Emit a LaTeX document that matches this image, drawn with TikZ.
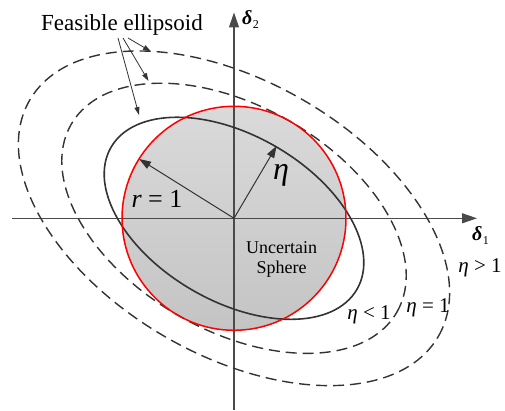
\documentclass[tikz,border=0pt]{standalone}
\usepackage{fontspec}
\setmainfont{Liberation Serif}
\usetikzlibrary{arrows.meta}
\definecolor{axcol}{HTML}{4A4A4A}
\definecolor{lncol}{HTML}{333333}
\definecolor{shtop}{HTML}{DADADA}
\definecolor{shbot}{HTML}{C4C4C4}
\tikzset{
  axisline/.style={draw=axcol, line width=1.1pt, -{Triangle[length=15pt,width=10pt]}},
  ellsolid/.style={draw=lncol, line width=1.6pt},
  elldash/.style={draw=lncol, line width=1.4pt, dash pattern=on 11pt off 6pt},
  redcirc/.style={draw=red, line width=1.5pt},
  thinarrow/.style={draw=lncol, line width=0.8pt, -{Triangle[length=8pt,width=5pt]}},
  radarrow/.style={draw=lncol, line width=1pt, -{Triangle[length=12pt,width=8pt]}},
  lbl/.style={inner sep=0pt, text=black}
}
\begin{document}
\begin{tikzpicture}[x=1pt,y=1pt]
\useasboundingbox (0,0) rectangle (505,411);
\coordinate (O) at (234,192.7);
% shaded sphere
\shade[top color=shtop, bottom color=shbot] (O) circle (112);
% axes
\coordinate (xs) at (12,192.7);
\coordinate (xe) at (477,192.7);
\coordinate (ys) at (234,1);
\coordinate (ye) at (234,398.5);
\draw[axisline] (xs) -- (xe);
\draw[axisline] (ys) -- (ye);
% ellipses
\begin{scope}[shift={(O)}, rotate=-30]
  \draw[elldash] (0,0) ellipse [x radius=236, y radius=137];
  \draw[elldash] (0,0) ellipse [x radius=188, y radius=112];
  \draw[ellsolid] (0,0) ellipse [x radius=142, y radius=83];
\end{scope}
% red circle
\draw[redcirc] (O) circle (112);
% radius arrows
\coordinate (rend) at ([shift={(148:112)}]O);
\coordinate (eend) at ([shift={(59.5:84)}]O);
\draw[radarrow] (O) -- (rend);
\draw[radarrow] (O) -- (eend);
% labels
\node[lbl, anchor=base, font=\fontsize{23}{26}\selectfont] (feas) at (122,380) {Feasible ellipsoid};
\coordinate (f1) at (118,373);
\coordinate (f2) at (123,373);
\coordinate (f3) at (128,373);
\coordinate (t1) at (139,296);
\coordinate (t2) at (148.5,330);
\coordinate (t3) at (151,359.5);
\draw[thinarrow] (f1) -- (t1);
\draw[thinarrow] (f2) -- (t2);
\draw[thinarrow] (f3) -- (t3);
\node[lbl, anchor=base, font=\fontsize{18}{20}\selectfont] (unc) at (281.7,157) {Uncertain};
\node[lbl, anchor=base, font=\fontsize{18}{20}\selectfont] (sph) at (281.7,137) {Sphere};
\node[lbl, anchor=base, font=\fontsize{26}{28}\selectfont] (req) at (157,203) {\itshape r\upshape\ = 1};
\node[lbl, font=\fontsize{32}{34}\selectfont\itshape] (eta) at (281,236) {η};
\node[lbl, anchor=base west, font=\fontsize{20}{22}\selectfont] (d2) at (242,386) {\bfseries\itshape δ\kern0.5pt\raisebox{-4pt}{\mdseries\upshape\fontsize{12}{12}\selectfont 2}};
\node[lbl, anchor=base west, font=\fontsize{20}{22}\selectfont] (d1) at (472,170) {\bfseries\itshape δ\kern0.5pt\raisebox{-4pt}{\mdseries\upshape\fontsize{12}{12}\selectfont 1}};
\node[lbl, font=\fontsize{21}{23}\selectfont] (eg) at (480,143) {\itshape η\upshape\ > 1};
\node[lbl, font=\fontsize{21}{23}\selectfont] (ee) at (428,103) {\itshape η\upshape\ = 1};
\node[lbl, font=\fontsize{21}{23}\selectfont] (el) at (369,96) {\itshape η\upshape\ < 1};
\end{tikzpicture}
\end{document}
